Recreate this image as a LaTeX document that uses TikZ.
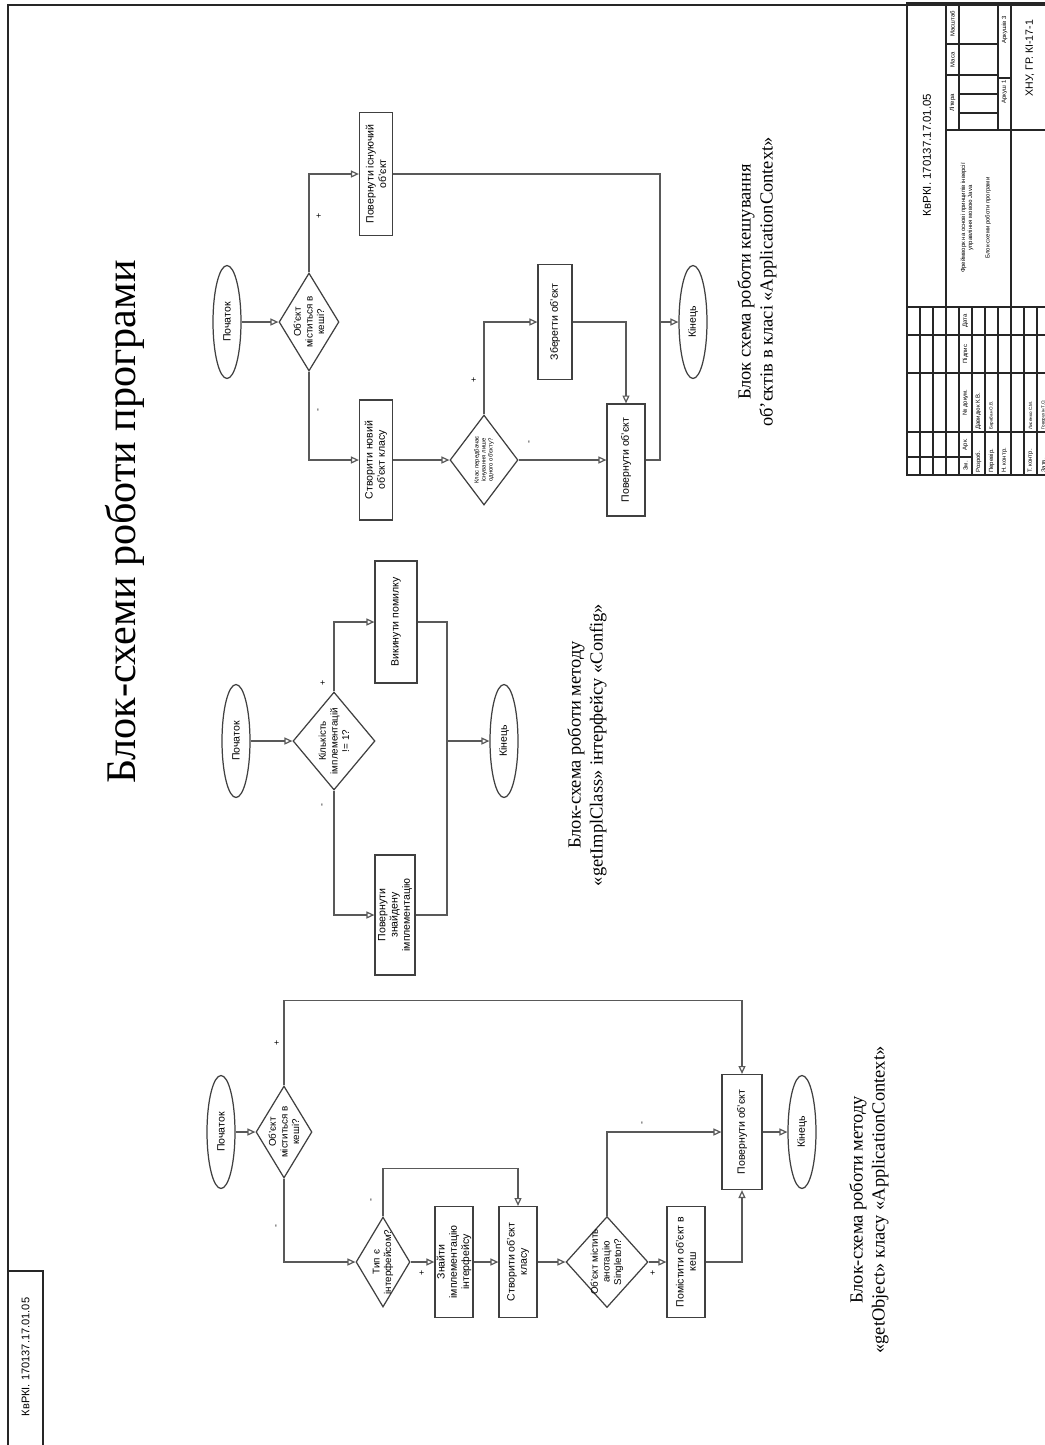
\documentclass[tikz,border=0pt]{standalone}
\usepackage{fontspec}
\setmainfont{Liberation Serif}
\newfontfamily\arialfont{Liberation Sans}
\usetikzlibrary{shapes.geometric, arrows.meta, positioning}
\tikzstyle{startstop} = [ellipse, rotate=90,
minimum width=2.26cm,
minimum height=0.56cm,
inner sep=0pt,
draw=black!75, line width=0.7pt,
font=\arialfont\fontsize{6}{7}\selectfont]
\tikzstyle{process} = [rectangle, rotate=90,
minimum width=2.22cm,
minimum height=0.76cm,
inner sep=1pt, align=center,
draw=black!75, line width=0.7pt,
font=\arialfont\fontsize{6}{7}\selectfont]
\tikzstyle{decision} = [diamond, rotate=90, inner sep=0pt,
draw=black!75, line width=0.7pt]
\tikzstyle{dtext} = [rotate=90, align=center, inner sep=0pt,
font=\arialfont\fontsize{5.6}{6.6}\selectfont]
\tikzstyle{sign} = [rotate=90, inner sep=0pt, font=\arialfont\fontsize{5}{5}\selectfont]
\tikzstyle{caption} = [rotate=90, align=center, font=\fontsize{10.5}{12.6}\selectfont]
\tikzstyle{tb} = [rotate=90, inner sep=0pt, align=center, font=\arialfont\fontsize{3.4}{4}\selectfont]
\tikzstyle{arrow} = [draw=black!65, line width=0.7pt, -{Triangle[open, length=4.5pt, width=4pt]}]
\tikzstyle{line} = [draw=black!65, line width=0.7pt]
\tikzstyle{stamp} = [draw=black!85, line width=0.9pt]
\begin{document}
\begin{tikzpicture}[x=0.02cm, y=-0.02cm]
    \path[use as bounding box, fill=white] (0,0) rectangle (1045,1445);

    % Рамка
    \draw[stamp] (8,1445) -- (8,5) -- (1050,5);
    \draw[stamp] (8,1271) -- (43,1271) -- (43,1445);
    \node (code2) [tb, font=\arialfont\fontsize{6.3}{7}\selectfont] at (25.5,1357) {КвРКІ. 170137.17.01.05};

    \node (title) [rotate=90, font=\fontsize{24}{28}\selectfont] at (125,522) {Блок-схеми роботи програми};

    % getObject: вузли
    \node (s1) [startstop] at (221,1132) {Початок};
    \node (d11) [decision, minimum width=1.84cm, minimum height=1.12cm] at (284,1132) {};
    \node (d11t) [dtext] at (d11) {Об’єкт\\міститься в\\кеші?};
    \node (d12) [decision, minimum width=1.8cm, minimum height=1.08cm] at (383,1262) {};
    \node (d12t) [dtext] at (d12) {Тип є\\інтерфейсом?};
    \node (find) [process] at (454,1262) {Знайти\\імплементацію\\інтерфейсу};
    \node (create) [process] at (518,1262) {Створити об’єкт\\класу};
    \node (d13) [decision, minimum width=1.82cm, minimum height=1.64cm] at (607,1262) {};
    \node (d13t) [dtext] at (d13) {Об’єкт містить\\анотацію\\Singleton?};
    \node (put) [process] at (686,1262) {Помістити об’єкт в\\кеш};
    \node (ret1) [process, minimum width=2.3cm, minimum height=0.8cm] at (742,1132) {Повернути об’єкт};
    \node (e1) [startstop] at (802,1132) {Кінець};
    \node (p11) [sign] at (277,1043) {+};
    \node (m11) [sign] at (277,1226) {-};
    \node (m12) [sign] at (372,1200) {-};
    \node (p12) [sign] at (422,1273) {+};
    \node (m13) [sign] at (643,1123) {-};
    \node (p13) [sign] at (653,1273) {+};

    % getObject: з'єднання
    \draw [arrow] (s1) -- (d11);
    \draw [arrow] (d11.east) -- ++(0,-85) -| (ret1);
    \draw [arrow] (d11.west) |- (d12);
    \draw [arrow] (d12) -- (find);
    \draw [arrow] (d12.east) -- ++(0,-48) -| (create);
    \draw [arrow] (find) -- (create);
    \draw [arrow] (create) -- (d13);
    \draw [arrow] (d13.east) |- (ret1);
    \draw [arrow] (d13) -- (put);
    \draw [arrow] (put) -| (ret1);
    \draw [arrow] (ret1) -- (e1);
    \node (cap1) [caption] at (869,1200) {Блок-схема роботи методу\\«getObject» класу «ApplicationContext»};

    % getImplClass: вузли
    \node (s2) [startstop] at (236,741) {Початок};
    \node (d21) [decision, minimum width=1.96cm, minimum height=1.64cm] at (334,741) {};
    \node (d21t) [dtext] at (d21) {Кількість\\імплементацій\\!= 1?};
    \node (err) [process, minimum width=2.44cm, minimum height=0.84cm] at (396,622) {Викинути помилку};
    \node (found) [process, minimum width=2.4cm, minimum height=0.8cm] at (395,915) {Повернути\\знайдену\\імплементацію};
    \coordinate (j2) at (447,741);
    \node (e2) [startstop] at (504,741) {Кінець};
    \node (p21) [sign] at (323,683) {+};
    \node (m21) [sign] at (323,805) {-};

    % getImplClass: з'єднання
    \draw [arrow] (s2) -- (d21);
    \draw [arrow] (d21.east) |- (err);
    \draw [arrow] (d21.west) |- (found);
    \draw [line] (err) -| (j2);
    \draw [line] (found) -| (j2);
    \draw [arrow] (j2) -- (e2);
    \node (cap2) [caption] at (587,745) {Блок-схема роботи методу\\«getImplClass» інтерфейсу «Config»};

    % кешування: вузли
    \node (s3) [startstop] at (227,322) {Початок};
    \node (d31) [decision, minimum width=1.96cm, minimum height=1.2cm] at (309,322) {};
    \node (d31t) [dtext] at (d31) {Об’єкт\\міститься в\\кеші?};
    \node (old) [process, minimum width=2.46cm, minimum height=0.66cm] at (376,174) {Повернути існуючий\\об’єкт};
    \node (new) [process, minimum width=2.4cm, minimum height=0.66cm] at (376,460) {Створити новий\\об’єкт класу};
    \node (d32) [decision, minimum width=1.8cm, minimum height=1.36cm] at (484,460) {};
    \node (d32t) [dtext, font=\arialfont\fontsize{3.4}{4}\selectfont] at (d32) {Клас передбачає\\існування лише\\одного об’єкту?};
    \node (save) [process, minimum width=2.3cm, minimum height=0.68cm] at (555,322) {Зберегти об’єкт};
    \node (ret3) [process, minimum width=2.24cm, minimum height=0.76cm] at (626,460) {Повернути об’єкт};
    \coordinate (j3) at (660,322);
    \node (e3) [startstop] at (693,322) {Кінець};
    \node (p31) [sign] at (319,216) {+};
    \node (m31) [sign] at (319,410) {-};
    \node (p32) [sign] at (474,380) {+};
    \node (m32) [sign] at (530,442) {-};

    % кешування: з'єднання
    \draw [arrow] (s3) -- (d31);
    \draw [arrow] (d31.east) |- (old);
    \draw [arrow] (d31.west) |- (new);
    \draw [arrow] (new) -- (d32);
    \draw [arrow] (d32.east) |- (save);
    \draw [arrow] (d32) -- (ret3);
    \draw [arrow] (save) -| (ret3);
    \draw [line] (old) -| (j3);
    \draw [line] (ret3) -| (j3);
    \draw [arrow] (j3) -- (e3);
    \node (cap3) [caption] at (757,282) {Блок схема роботи кешування\\об’єктів в класі «ApplicationContext»};

    % Штамп
    \draw[stamp] (907,3) rectangle (1050,475);
    \foreach \r in {920,933,946,959,972,985,998,1011,1024,1037}
        \draw[stamp] (\r,307) -- (\r,475);
    \foreach \c in {432,373,335,307}
        \draw[stamp] (907,\c) -- (1050,\c);
    \draw[stamp] (907,457) -- (972,457);
    \draw[stamp] (946,3) -- (946,307);
    \draw[stamp] (1011,3) -- (1011,307);
    \draw[stamp] (946,130) -- (1050,130);
    \draw[stamp] (959,3) -- (959,130);
    \draw[stamp] (998,3) -- (998,130);
    \draw[stamp] (946,75) -- (998,75);
    \draw[stamp] (946,44) -- (998,44);
    \draw[stamp] (959,113) -- (998,113);
    \draw[stamp] (959,94) -- (998,94);
    \draw[stamp] (998,78) -- (1011,78);

    \node (code) [tb, font=\arialfont\fontsize{6.5}{7}\selectfont] at (927,155) {КвРКІ. 170137.17.01.05};
    \node (name) [tb] at (967,218) {Фреймворк на основі принципів інверсії\\управління мовою Java};
    \node (sheet) [tb] at (988,218) {Блок-схеми роботи програми};
    \node (lit) [tb] at (952.5,103) {Літера};
    \node (mass) [tb] at (952.5,60) {Маса};
    \node (scl) [tb] at (952.5,24) {Масштаб};
    \node (ark) [tb] at (1004.5,92) {Аркуш 1};
    \node (arks) [tb] at (1004.5,30) {Аркушів 3};
    \node (org) [tb, font=\arialfont\fontsize{6}{7}\selectfont] at (1030,58) {ХНУ, ГР. КІ-17-1};
    \node (zm) [tb] at (965.5,466) {Зм.};
    \node (ar) [tb] at (965.5,444.5) {Арк.};
    \node (doc) [tb] at (965.5,402.5) {№ докум.};
    \node (sig) [tb] at (965.5,354) {Підпис};
    \node (dat) [tb] at (965.5,321) {Дата};
    \node (dev) [tb, anchor=west] at (978.5,473) {Розроб.};
    \node (chk) [tb, anchor=west] at (991.5,473) {Перевір.};
    \node (nc) [tb, anchor=west] at (1004.5,473) {Н. контр.};
    \node (tc) [tb, anchor=west] at (1030.5,473) {Т. контр.};
    \node (apr) [tb, anchor=west] at (1043.5,473) {Затв.};
    \node (devn) [tb, anchor=west] at (978.5,430) {Давидюк К.В.};
    \node (chkn) [tb, anchor=west, font=\arialfont\fontsize{2.6}{3}\selectfont] at (991.5,430) {Барабан О.В.};
    \node (tcn) [tb, anchor=west, font=\arialfont\fontsize{2.6}{3}\selectfont] at (1030.5,430) {Лисенко С.М.};
    \node (aprn) [tb, anchor=west, font=\arialfont\fontsize{2.6}{3}\selectfont] at (1043.5,430) {Говорухін Т.О.};

\end{tikzpicture}
\end{document}
